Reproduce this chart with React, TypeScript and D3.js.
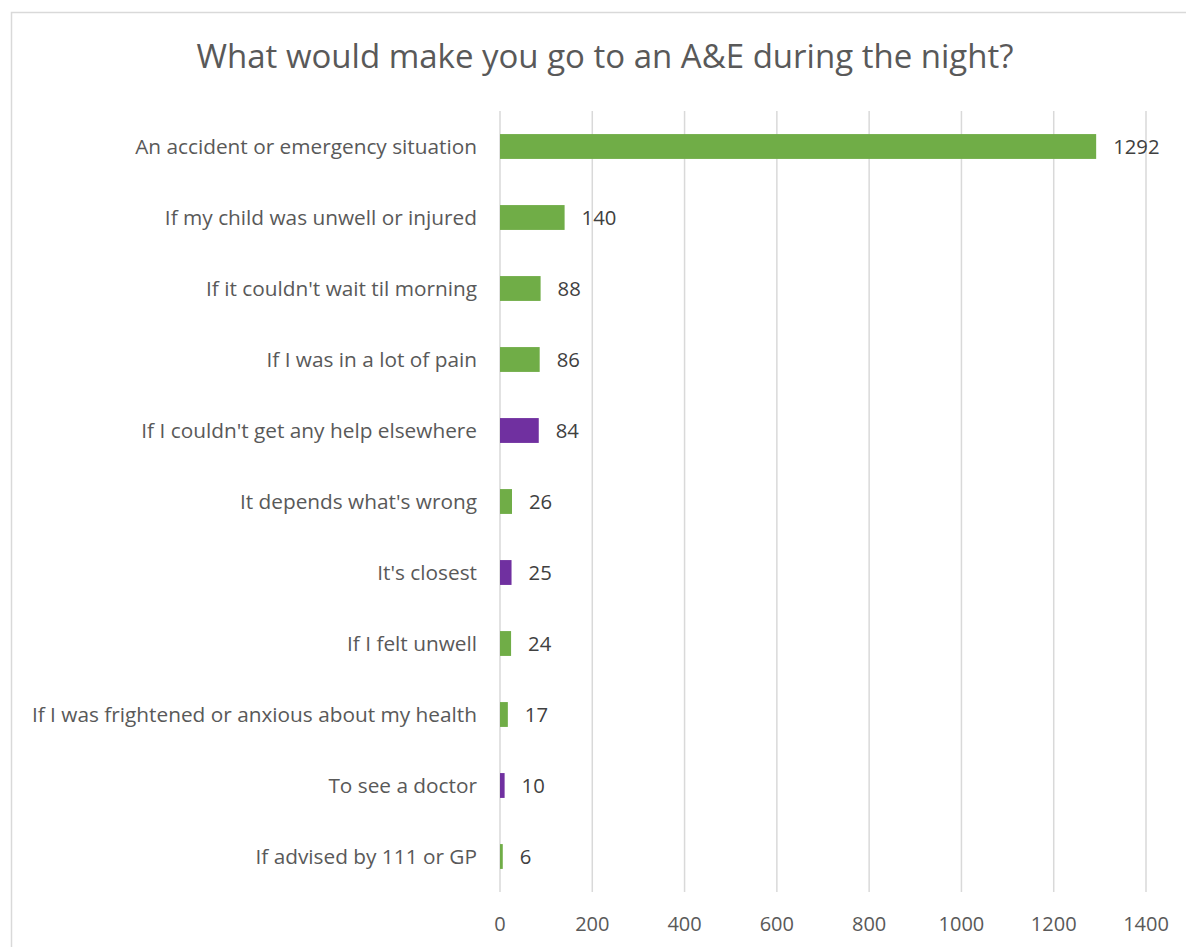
import React from "react";
import * as d3 from "d3";

const title = "What would make you go to an A&E during the night?";
const categories = [
  "An accident or emergency situation",
  "If my child was unwell or injured",
  "If it couldn't wait til morning",
  "If I was in a lot of pain",
  "If I couldn't get any help elsewhere",
  "It depends what's wrong",
  "It's closest",
  "If I felt unwell",
  "If I was frightened or anxious about my health",
  "To see a doctor",
  "If advised by 111 or GP",
];
const values = [1292, 140, 88, 86, 84, 26, 25, 24, 17, 10, 6];
const highlighted = [false, false, false, false, true, false, true, false, false, true, false];
const xTicks = [0, 200, 400, 600, 800, 1000, 1200, 1400];

const GREEN = "#70AD47";
const PURPLE = "#7030A0";
const FONT = "'Open Sans', sans-serif";

export default function App() {
  const W = 1186;
  const H = 947;
  const left = 500;
  const right = 1146;
  const top = 111;
  const bottom = 892;

  const x = d3.scaleLinear().domain([0, 1400]).range([left, right]);
  const y = d3
    .scaleBand<string>()
    .domain(categories)
    .range([top, bottom])
    .paddingInner(0.65)
    .paddingOuter(0.325);

  return (
    <svg
      width={W}
      height={H}
      style={{ position: "absolute", left: 0, top: 0, background: "#fff" }}
      fontFamily={FONT}
    >
      <rect x={0} y={0} width={W} height={H} fill="#fff" />
      <rect x={11.5} y={12.5} width={W + 20} height={H + 20} fill="none" stroke="#D9D9D9" strokeWidth={1.5} />
      <text x={605} y={68} textAnchor="middle" fontSize={33} fill="#595959">
        {title}
      </text>
      {xTicks.map((t) => (
        <line key={"g" + t} x1={x(t)} x2={x(t)} y1={top} y2={bottom} stroke="#D9D9D9" strokeWidth={1.5} />
      ))}
      {xTicks.map((t) => (
        <text key={"t" + t} x={x(t)} y={931} textAnchor="middle" fontSize={20} fill="#595959">
          {t}
        </text>
      ))}
      {categories.map((c, i) => {
        const yy = y(c)!;
        const bw = y.bandwidth();
        const cy = yy + bw / 2;
        return (
          <g key={c}>
            <rect
              x={x(0)}
              y={yy}
              width={x(values[i]) - x(0)}
              height={bw}
              fill={highlighted[i] ? PURPLE : GREEN}
            />
            <text x={477} y={cy + 7} textAnchor="end" fontSize={20.8} fill="#595959">
              {c}
            </text>
            <text x={x(values[i]) + 17} y={cy + 7} textAnchor="start" fontSize={20.3} fill="#404040">
              {values[i]}
            </text>
          </g>
        );
      })}
    </svg>
  );
}
